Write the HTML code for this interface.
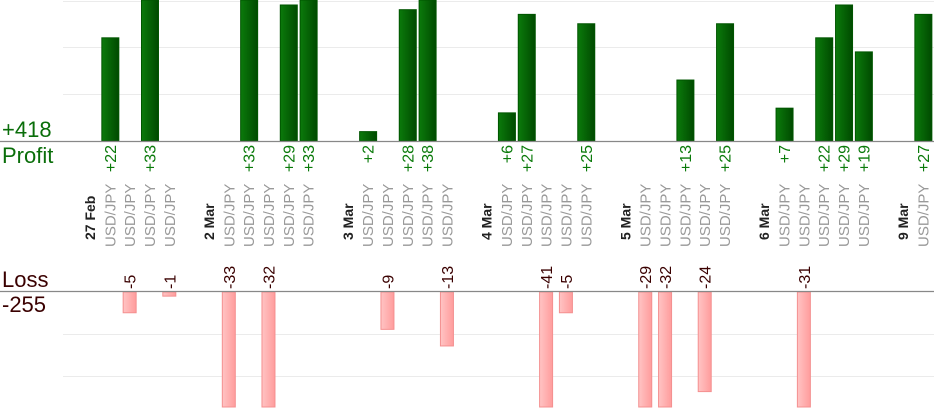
<!DOCTYPE html>
<html><head><style>
body{margin:0;background:#fff;}
svg{display:block;font-family:"Liberation Sans",sans-serif;}
</style></head><body>
<svg width="934" height="420" viewBox="0 0 934 420" xmlns="http://www.w3.org/2000/svg">
<defs>
<linearGradient id="g" x1="0" x2="1"><stop offset="0" stop-color="#0b7a0b"/><stop offset="1" stop-color="#004a00"/></linearGradient>
<linearGradient id="r" x1="0" x2="1"><stop offset="0" stop-color="#ffc4c4"/><stop offset="1" stop-color="#ff9c9c"/></linearGradient>
</defs>
<g stroke="#ebebeb" stroke-width="1">
<line x1="63" x2="934" y1="1.5" y2="1.5"/><line x1="63" x2="934" y1="47.5" y2="47.5"/><line x1="63" x2="934" y1="94.5" y2="94.5"/>
<line x1="63" x2="934" y1="334.5" y2="334.5"/><line x1="63" x2="934" y1="376.5" y2="376.5"/>
</g>
<g id="bars"></g>
<line x1="0" x2="934" y1="141.5" y2="141.5" stroke="#888" stroke-width="1.3"/>
<line x1="0" x2="934" y1="291.5" y2="291.5" stroke="#888" stroke-width="1.3"/>
<g font-size="22">
<text x="2" y="137" fill="#0a6e0a">+418</text>
<text x="2" y="163" fill="#0a6e0a">Profit</text>
<text x="2" y="287" fill="#3a0000">Loss</text>
<text x="2" y="312" fill="#3a0000">-255</text>
</g>
<g id="labels"></g>
<script>
var data=[["27 Feb"],[22],[-5],[33],[-1],null,["2 Mar"],[-33],[33],[-32],[29],[33],null,["3 Mar"],[2],[-9],[28],[38],[-13],null,["4 Mar"],[6],[27],[-41],[-5],[25],null,["5 Mar"],[-29],[-32],[13],[-24],[25],null,["6 Mar"],[7],[-31],[22],[29],[19],null,["9 Mar"],[27]];
var ns="http://www.w3.org/2000/svg",B=document.getElementById('bars'),L=document.getElementById('labels');
function el(t,a,txt,p){var e=document.createElementNS(ns,t);for(var k in a)e.setAttribute(k,a[k]);if(txt!=null)e.textContent=txt;p.appendChild(e);return e;}
data.forEach(function(d,i){if(!d)return;var cx=90+i*19.83;var v=d[0];
 if(typeof v=="string"){el('text',{transform:'translate('+(cx+5)+',240) rotate(-90)','font-size':'14','font-weight':'bold',fill:'#222'},v,L);return;}
 el('text',{transform:'translate('+(cx+5.5)+',247) rotate(-90)','font-size':'15',fill:'#999'},'USD/JPY',L);
 if(v>0){var h=Math.min(v*4.69,141);el('rect',{x:cx-8,y:141-h,width:17,height:h,fill:'url(#g)',stroke:'#005500','stroke-width':1},null,B);
  el('text',{transform:'translate('+(cx+6)+',145) rotate(-90)','font-size':'16',fill:'#0a7a0a','text-anchor':'end'},'+'+v,L);}
 else{var h=Math.min(-v*4.15,115);el('rect',{x:cx-6.5,y:292,width:13,height:h,fill:'url(#r)',stroke:'#f49090','stroke-width':1},null,B);
  el('text',{transform:'translate('+(cx+6)+',289) rotate(-90)','font-size':'16',fill:'#3a0000'},''+v,L);}
});
</script>
</svg>
</body></html>
